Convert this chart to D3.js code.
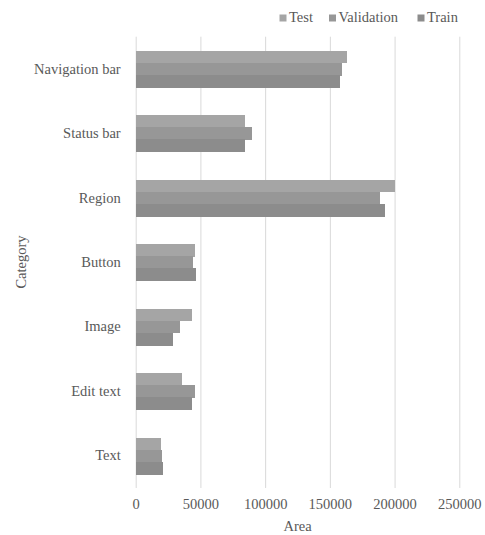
<!DOCTYPE html>
<html>
<head>
<meta charset="utf-8">
<script src="https://cdn.jsdelivr.net/npm/d3@7"></script>
<style>
  body { margin: 0; background: #fff; }
  svg text { font-family: 'Liberation Serif', 'DejaVu Serif', serif !important; fill: #595959; }
</style>
</head>
<body>
<svg width="485" height="535"></svg>
<script>
// **** Data ****
var categories = ['Navigation bar', 'Status bar', 'Region', 'Button', 'Image', 'Edit text', 'Text'];
var seriesNames = ['Test', 'Validation', 'Train'];
var testValues = [163500, 84500, 200600, 45600, 43500, 35500, 19300];
var validationValues = [159700, 90100, 189000, 44300, 34500, 45600, 20100];
var trainValues = [157600, 84500, 192900, 46400, 28800, 43500, 20900];
var xTicks = [0, 50000, 100000, 150000, 200000, 250000];

var seriesValues = [testValues, validationValues, trainValues];
var colors = ['#a5a5a5', '#979797', '#8c8c8c'];

// **** Scales ****
var plotLeft = 135.7, plotRight = 459.3, plotTop = 36.7, plotBottom = 488;

var xScale = d3.scaleLinear().domain([0, 250000]).range([plotLeft, plotRight]);

var yScale = d3.scaleBand().domain(categories).range([plotTop, plotBottom])
    .paddingInner(0.434).paddingOuter(0.217);

var subScale = d3.scaleBand().domain(seriesNames).range([0, yScale.bandwidth()]);

var svg = d3.select('svg');

// **** Grid lines ****
svg.append('g').attr('class', 'grid')
    .attr('transform', 'translate(0,' + plotTop + ')')
    .call(d3.axisTop(xScale).tickValues(xTicks).tickSize(-(plotBottom - plotTop)).tickFormat(''))
    .call(g => g.select('.domain').remove())
    .call(g => g.selectAll('line').attr('stroke', '#d9d9d9').attr('stroke-width', 1));

// **** Bars ****
var rows = [];
categories.forEach((c, i) => {
    seriesNames.forEach((s, j) => {
        rows.push({ category: c, series: s, value: seriesValues[j][i], color: colors[j] });
    });
});

svg.append('g').attr('shape-rendering', 'crispEdges')
    .selectAll('rect')
    .data(rows)
    .join('rect')
    .attr('x', xScale(0))
    .attr('y', d => yScale(d.category) + subScale(d.series))
    .attr('width', d => xScale(d.value) - xScale(0))
    .attr('height', subScale.bandwidth() + 0.5)
    .attr('fill', d => d.color);

// **** Axes ****
svg.append('g').attr('class', 'x axis')
    .attr('transform', 'translate(0,499)')
    .call(d3.axisBottom(xScale).tickValues(xTicks).tickSize(0).tickPadding(0).tickFormat(d3.format('d')))
    .call(g => g.select('.domain').remove())
    .call(g => g.attr('font-family', null).attr('font-size', null))
    .call(g => g.selectAll('text').attr('font-size', '14.5px'));

svg.append('g').attr('class', 'y axis')
    .attr('transform', 'translate(' + plotLeft + ',0)')
    .call(d3.axisLeft(yScale).tickSize(0).tickPadding(15))
    .call(g => g.select('.domain').remove())
    .call(g => g.attr('font-family', null).attr('font-size', null))
    .call(g => g.selectAll('text').attr('font-size', '14.5px'));

// **** Labels ****
svg.append('text')
    .attr('x', (plotLeft + plotRight) / 2)
    .attr('y', 531)
    .attr('text-anchor', 'middle')
    .attr('font-size', '14.5px')
    .text('Area');

svg.append('text')
    .attr('transform', 'translate(26,262) rotate(-90)')
    .attr('text-anchor', 'middle')
    .attr('font-size', '14.5px')
    .text('Category');

// **** Legend ****
var legendX = [279.5, 329, 417.5];
var legend = svg.append('g').selectAll('g')
    .data(seriesNames)
    .join('g')
    .attr('transform', (d, i) => 'translate(' + legendX[i] + ',0)');

legend.append('rect')
    .attr('x', 0).attr('y', 14.5)
    .attr('width', 7).attr('height', 7)
    .attr('fill', (d, i) => colors[i]);

legend.append('text')
    .attr('x', 9.5).attr('y', 21.5)
    .attr('font-size', '14.5px')
    .text(d => d);
</script>
</body>
</html>
